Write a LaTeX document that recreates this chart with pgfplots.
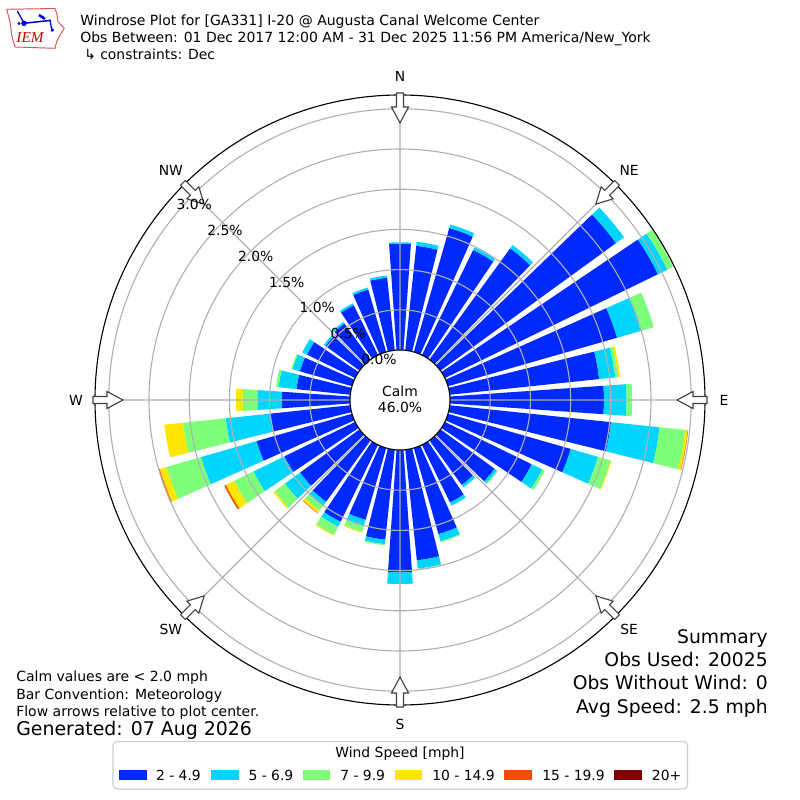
\documentclass[border=0pt]{standalone}
\usepackage{fontspec}
\setmainfont{DejaVu Sans}
\newfontfamily\iemfont{Liberation Serif}
\usepackage{pgfplots}
\usepackage{pgfplotstable}
\pgfplotsset{compat=1.18}
\usepgfplotslibrary{polar}
\definecolor{c1}{HTML}{0029FF}
\definecolor{c2}{HTML}{00D5FF}
\definecolor{c3}{HTML}{7DFF7A}
\definecolor{c4}{HTML}{FFE600}
\definecolor{c5}{HTML}{FF4800}
\definecolor{c6}{HTML}{800000}
\definecolor{gridc}{HTML}{B0B0B0}
% direction, percent of observations per speed class
\pgfplotstableread{
dir s1 s2 s3 s4 s5 s6
0 1.323 0.017 0 0 0 0
10 1.306 0.050 0 0 0 0
20 1.604 0.044 0 0 0 0
30 1.455 0.037 0 0 0 0
40 1.710 0.050 0 0 0 0
50 2.699 0.124 0 0 0 0
60 2.948 0.131 0.081 0 0 0
70 2.187 0.311 0.164 0 0 0
80 1.869 0.201 0.035 0.025 0 0
90 1.915 0.282 0.070 0 0 0
100 2.017 0.607 0.323 0.030 0.005 0
110 1.588 0.352 0.164 0.010 0 0
120 1.201 0.146 0.034 0 0 0
130 0.833 0.037 0.012 0 0 0
140 0.684 0.037 0 0 0 0
150 0.796 0.044 0 0 0 0
160 1.114 0.092 0.012 0 0 0
170 1.383 0.104 0.011 0 0 0
180 1.524 0.143 0 0 0 0
190 1.126 0.055 0.014 0 0 0
200 0.929 0.085 0.071 0.010 0 0
210 1.063 0.068 0.112 0.012 0 0
220 0.943 0.065 0.072 0.034 0.006 0
230 0.915 0.231 0.159 0.019 0 0
240 0.978 0.428 0.267 0.116 0.021 0
250 1.235 0.720 0.445 0.087 0.012 0
260 1.007 0.551 0.534 0.233 0 0
270 0.850 0.303 0.182 0.083 0 0
280 0.672 0.224 0.031 0 0 0
290 0.674 0.095 0.015 0 0 0
300 0.665 0.065 0 0 0 0
310 0.522 0.025 0 0 0 0
320 0.553 0.025 0 0 0 0
330 0.690 0.025 0 0 0 0
340 0.808 0.025 0 0 0 0
350 0.908 0.027 0 0 0 0
}\rosetable
\newcommand{\roseoffset}{0.622}
% one wedge: bearing, from, to, colour
\newcommand{\rosewedge}[4]{%
  \ifdim #3pt>#2pt\relax
    \pgfmathsetmacro\ra{#2+\roseoffset}%
    \pgfmathsetmacro\rb{#3+\roseoffset}%
    \pgfmathsetmacro\aa{90-#1-4}%
    \pgfmathsetmacro\ab{90-#1-2}%
    \pgfmathsetmacro\ac{90-#1}%
    \pgfmathsetmacro\ad{90-#1+2}%
    \pgfmathsetmacro\ae{90-#1+4}%
    \edef\wedgeplot{\noexpand\addplot[fill=#4,draw=none,forget plot] coordinates {(\aa,\ra) (\aa,\rb) (\ab,\rb) (\ac,\rb) (\ad,\rb) (\ae,\rb) (\ae,\ra) (\ad,\ra) (\ac,\ra) (\ab,\ra)} -- cycle;}%
    \wedgeplot
  \fi}
\begin{document}
\begin{tikzpicture}
\path[use as bounding box,fill=white] (0,0) rectangle (576pt,576pt);
\begin{polaraxis}[
  at={(288pt,288pt)},anchor=center,
  scale only axis,width=439.2pt,height=439.2pt,
  xmin=0,xmax=360,ymin=0,ymax=3.794,
  xtick={0,45,...,315},
  ytick={1.122,1.622,2.122,2.622,3.122,3.622},
  xticklabels={},yticklabels={},
  grid=major,
  major grid style={color=gridc,line width=0.8pt},
  tick style={draw=none},
  axis on top,
  y axis line style={draw=none},
  x axis line style={black,line width=0.8pt},
  clip=false,
]
\pgfplotsforeachungrouped \i in {0,...,35}{%
  \pgfplotstablegetelem{\i}{dir}\of\rosetable \let\bb\pgfplotsretval
  \def\cum{0}%
  \pgfplotsforeachungrouped \k in {1,...,6}{%
    \pgfplotstablegetelem{\i}{s\k}\of\rosetable \let\sv\pgfplotsretval
    \pgfmathsetmacro\nxt{\cum+\sv}%
    \edef\docall{\noexpand\rosewedge{\bb}{\cum}{\nxt}{c\k}}%
    \docall
    \let\cum\nxt
  }%
}
\end{polaraxis}
\begin{scope}[x=0.72pt,y=-0.72pt,shift={(0,576pt)}]
  \draw[black,fill=white,line width=0.8pt] (400,400) circle (36pt);
  \foreach \b/\t in {0/N,45/NE,90/E,135/SE,180/S,225/SW,270/W,315/NW}{%
    \begin{scope}[shift={(400,400)},rotate=-\b]
      \draw[fill=white,draw=black!75,line width=0.8pt,line join=miter]
        (-3.5,-307)--(3.5,-307)--(3.5,-293)--(8.5,-293)--(0,-277)--(-8.5,-293)--(-3.5,-293)--cycle;
    \end{scope}
    \pgfmathsetmacro\lx{400+324*sin(\b)}
    \pgfmathsetmacro\ly{400-324*cos(\b)}
    \node[font=\fontsize{10}{12}\selectfont,inner sep=0pt] at (\lx,\ly) {\t};
  }
  % radial labels
  \foreach \x/\y/\t in {379/359.5/0.0,348.3/333.5/0.5,317.3/307.5/1.0,286.7/282/1.5,255.7/256/2.0,225/230/2.5,194.3/204/3.0}{%
    \node[font=\fontsize{10}{12}\selectfont,inner sep=0pt] at (\x,\y) {\t\%};
  }
  \node[font=\fontsize{10}{12}\selectfont,inner sep=0pt] at (400,391) {Calm};
  \node[font=\fontsize{10}{12}\selectfont,inner sep=0pt] at (400,407) {46.0\%};
  % title
  \node[font=\fontsize{10.1}{12}\selectfont,anchor=base west,inner sep=0pt] at (80,25.5) {Windrose Plot for [GA331] I-20 @ Augusta Canal Welcome Center};
  \node[font=\fontsize{10.08}{12}\selectfont,anchor=base west,inner sep=0pt] at (80,42.5) {Obs Between: 01 Dec 2017 12:00 AM - 31 Dec 2025 11:56 PM America/New\_York};
  \node[font=\fontsize{10}{12}\selectfont,anchor=base west,inner sep=0pt] at (84,59.5) {↳ constraints: Dec};
  % summary
  \foreach \y/\t in {643.5/Summary,666.5/Obs Used: 20025,689.5/Obs Without Wind: 0,713/Avg Speed: 2.5 mph}{%
    \node[font=\fontsize{13.5}{16}\selectfont,anchor=base east,inner sep=0pt] at (768,\y) {\t};
  }
  % notes
  \foreach \y/\t in {682/Calm values are < 2.0 mph,699.5/Bar Convention: Meteorology,717/Flow arrows relative to plot center.}{%
    \node[font=\fontsize{10.08}{12}\selectfont,anchor=base west,inner sep=0pt] at (16,\y) {\t};
  }
  \node[font=\fontsize{13.6}{16}\selectfont,anchor=base west,inner sep=0pt] at (16,736) {Generated: 07 Aug 2026};
  % legend
  \draw[rounded corners=3pt,draw=black!20,fill=white,line width=0.8pt] (113,741.5) rectangle (687.5,789);
  \node[font=\fontsize{10}{12}\selectfont,inner sep=0pt] at (400,754) {Wind Speed [mph]};
  \foreach \xa/\xb/\xt/\c/\t in {119/147/155.8/c1/2 - 4.9,211/238.5/248.3/c2/5 - 6.9,303/330/340/c3/7 - 9.9,395/422/432/c4/10 - 14.9,504/532/542/c5/15 - 19.9,614/642/651.7/c6/20+}{%
    \fill[\c] (\xa,770) rectangle (\xb,779.5);
    \node[font=\fontsize{10}{12}\selectfont,anchor=base west,inner sep=0pt] at (\xt,780) {\t};
  }
  % logo
  \draw[red!60!white!85!black,line width=0.7pt,line join=round] (6.7,9.3)--(55,8.5)--(57,14)--(58,21.7)--(64.3,28.3)--(60,35)--(56.7,41.7)--(55,48.3)--(15,47)--(11.7,35)--(10,21.7)--cycle;
  \draw[blue!80!black,line width=1.1pt] (23.5,23.3)--(50,20.5);
  \draw[blue!80!black,line width=0.9pt] (17.3,11)--(24,23) (50,19.5)--(52,31.5);
  \draw[blue!80!black,line width=1.8pt] (39,15)--(45,19);
  \fill[blue!80!black] (24,23.3) circle (2pt) (19,23.5) circle (1.2pt) (52.5,30) circle (1.2pt);
  \node[font=\iemfont\itshape\fontsize{11}{13}\selectfont,text=red!80!black,anchor=base,inner sep=0pt] at (30,43) {IEM};
\end{scope}
\end{tikzpicture}
\end{document}
